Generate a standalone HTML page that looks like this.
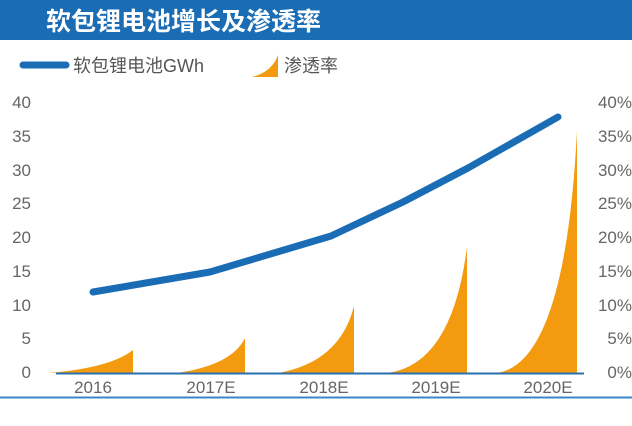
<!DOCTYPE html>
<html><head><meta charset="utf-8"><style>
body{margin:0;background:#fff;}
svg text{font-family:"Liberation Sans","Noto Sans CJK SC",sans-serif;}
</style></head><body>
<svg width="632" height="421" viewBox="0 0 632 421" xmlns="http://www.w3.org/2000/svg">
<rect x="0" y="0" width="632" height="40" fill="#1a6db5"/>
<text x="46" y="30" font-size="25" font-weight="bold" fill="#fff" style="font-family:'Noto Sans CJK SC',sans-serif">软包锂电池增长及渗透率</text>
<line x1="23" y1="65" x2="66" y2="65" stroke="#1a6db5" stroke-width="7" stroke-linecap="round"/>
<text x="73" y="72" font-size="18" fill="#555">软包锂电池GWh</text>
<path d="M252 77 Q272 72 278 55 L278 77 Z" fill="#f39a0f"/>
<text x="284" y="72" font-size="18" fill="#555">渗透率</text>
<g font-size="17" fill="#666" text-anchor="end">
<text x="31" y="108">40</text><text x="31" y="142">35</text><text x="31" y="176">30</text><text x="31" y="209">25</text><text x="31" y="243">20</text><text x="31" y="277">15</text><text x="31" y="311">10</text><text x="31" y="344">5</text><text x="31" y="378">0</text>
</g>
<g font-size="17" fill="#666" text-anchor="end">
<text x="632" y="108">40%</text><text x="632" y="142">35%</text><text x="632" y="176">30%</text><text x="632" y="209">25%</text><text x="632" y="243">20%</text><text x="632" y="277">15%</text><text x="632" y="311">10%</text><text x="632" y="344">5%</text><text x="632" y="378">0%</text>
</g>
<g fill="#f39a0f">
<path d="M48 373 Q110 368 133 350 L133 373 Z"/>
<path d="M177 373 Q232 365 245 338 L245 373 Z"/>
<path d="M278 373 Q340 362 354 306 L354 373 Z"/>
<path d="M387 373 Q452 365 467 247 L467 373 Z"/>
<path d="M496 373 Q565 365 577 131 L577 373 Z"/>
</g>
<line x1="56" y1="373.5" x2="584" y2="373.5" stroke="#2a6fb0" stroke-width="2"/>
<polyline points="93,292 210,272 331,236 403,202 468,168 558,117" fill="none" stroke="#1a6db5" stroke-width="7" stroke-linecap="round" stroke-linejoin="round"/>
<g font-size="17" fill="#666" text-anchor="middle">
<text x="93" y="393">2016</text><text x="211" y="393">2017E</text><text x="324" y="393">2018E</text><text x="436" y="393">2019E</text><text x="548" y="393">2020E</text>
</g>
<line x1="0" y1="397.5" x2="632" y2="397.5" stroke="#3a86c8" stroke-width="2"/>
</svg>
</body></html>
